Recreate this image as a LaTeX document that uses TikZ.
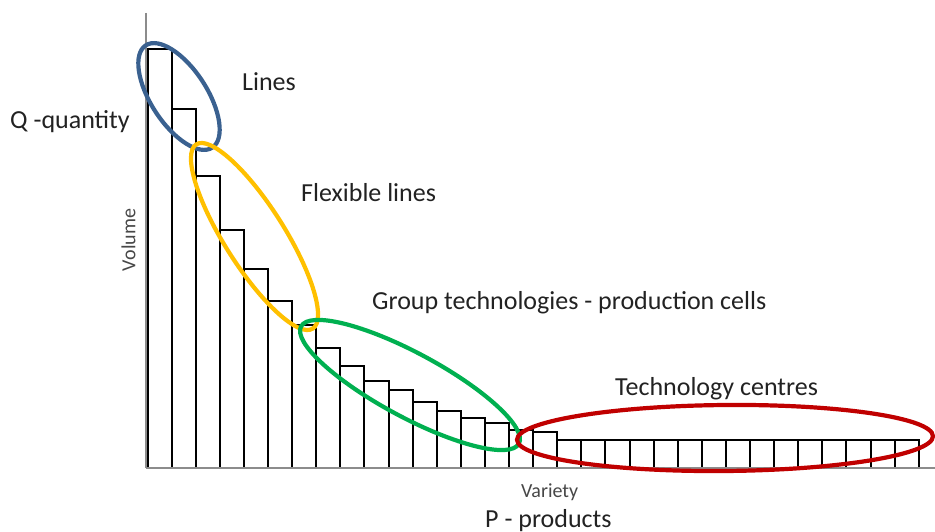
\documentclass[tikz,border=0pt]{standalone}
\usepackage{fontspec}
\setmainfont{Carlito}
\definecolor{txt}{HTML}{222222}
\definecolor{axisgray}{HTML}{8C8C8C}
\definecolor{eblue}{HTML}{3A6190}
\definecolor{eyellow}{HTML}{FFC000}
\definecolor{egreen}{HTML}{00B050}
\definecolor{ered}{HTML}{C00000}
\tikzset{
  lbl/.style={anchor=base west, inner sep=0pt, text=txt, font=\fontsize{26}{30}\selectfont},
  small/.style={inner sep=0pt, text=black!72, font=\fontsize{20}{24}\selectfont},
  bar/.style={draw=black, line width=2pt, fill=white},
  ring/.style={line width=4.2pt},
  ax/.style={draw=axisgray, line width=1.5pt}
}
\begin{document}
\begin{tikzpicture}[x=1pt,y=-1pt]
\useasboundingbox (0,0) rectangle (935,532);
% bars
\def\bw{24.1}
\def\xo{147.5}
\foreach \t [count=\k from 0] in {49,109,176,230,269,301,325,348,366,381,390,402,411,418,423,430,432,440,440,440,440,440,440,440,440,440,440,440,440,440,440,440}{
  \draw[bar] ({\xo+\k*\bw},468) rectangle ({\xo+(\k+1)*\bw},\t);
}
% axes
\draw[ax] (146,13) -- (146,468);
\draw[ax] (146,468) -- (935,468);
% ellipses
\draw[ring, draw=eblue] [shift={(179,96.5)}, rotate=-57] (0,0) ellipse [x radius=61pt, y radius=28pt];
\draw[ring, draw=eyellow] [shift={(254.5,236.5)}, rotate=-57.7] (0,0) ellipse [x radius=109pt, y radius=30pt];
\draw[ring, draw=egreen] [shift={(410,385)}, rotate=-28.3] (0,0) ellipse [x radius=123.7pt, y radius=32pt];
\draw[ring, draw=ered] [shift={(725,438)}, rotate=0.5] (0,0) ellipse [x radius=208pt, y radius=33pt];
% labels
\node[lbl] (lines) at (242,91) {Lines};
\node[lbl] (flex) at (301,201) {Flexible lines};
\node[lbl] (group) at (372,309) {Group technologies - production cells};
\node[lbl] (tech) at (615,395) {Technology centres};
\node[lbl] (qty) at (10,129) {Q -quantity};
\node[lbl] (prod) at (485,527) {P - products};
\node[small, rotate=90] (vol) at (128.5,240) {Volume};
\node[small, anchor=base west] (var) at (521,497) {Variety};
\end{tikzpicture}
\end{document}
